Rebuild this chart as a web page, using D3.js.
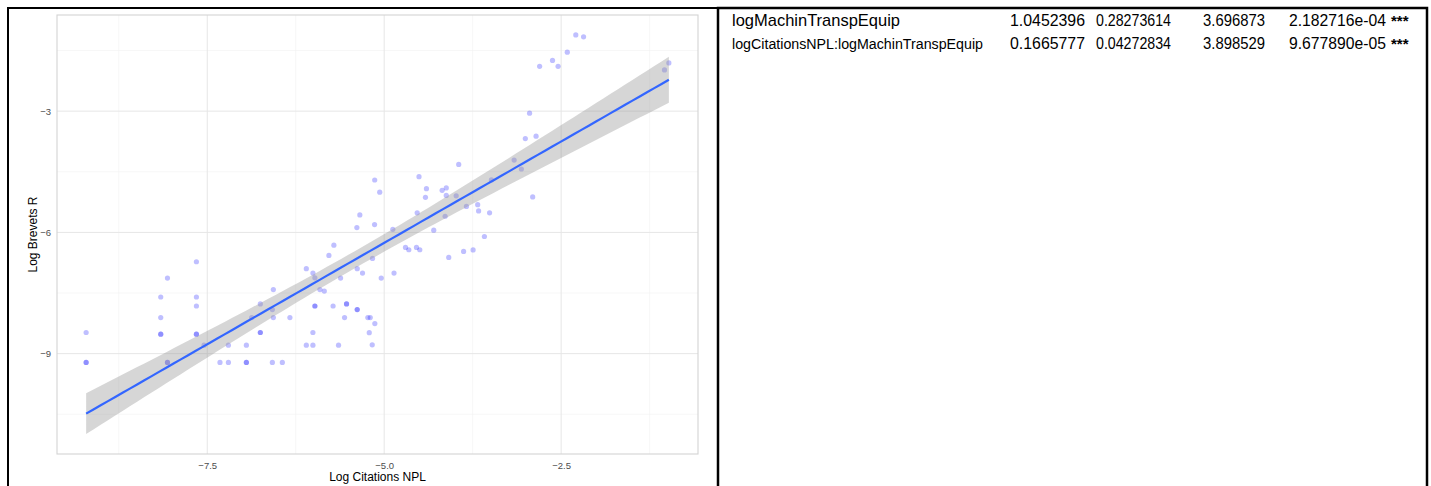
<!DOCTYPE html>
<html>
<head>
<meta charset="utf-8">
<script src="https://cdn.jsdelivr.net/npm/d3@7"></script>
<style>
  body { margin: 0; background: #fff; }
  svg { display: block; font-family: "Liberation Sans", Arial, sans-serif; }
</style>
</head>
<body>
<div id="chart"></div>
<script>
// log citations NPL (x) / log brevets R (y)
const citations = [
  -9.211, -9.211, -9.211, -8.157, -8.062, -8.157, -8.157, -8.157, -8.062, -8.062,
  -7.653, -7.653, -7.653, -7.653, -7.653, -7.545, -7.320, -7.201, -7.201, -6.947,
  -6.947, -6.947, -6.750, -6.750, -6.750, -6.872, -6.580, -6.566, -6.566, -6.580,
  -6.439, -6.332, -6.100, -6.007, -5.979, -5.908, -5.846, -5.979, -5.979, -5.722,
  -6.007, -6.100, -6.007, -5.645, -5.532, -5.532, -5.560, -5.381, -5.381, -5.231,
  -5.197, -5.132, -5.211, -5.169, -5.381, -5.781, -5.711, -5.616, -5.306, -5.165,
  -5.042, -4.861, -4.699, -4.652, -4.544, -4.497, -4.088, -3.878, -3.744, -5.344,
  -5.386, -5.136, -5.134, -5.063, -4.508, -4.403, -4.417, -4.181, -4.123, -4.123,
  -3.983, -4.534, -4.878, -4.300, -4.139, -3.947, -3.485, -3.838, -3.679, -3.666,
  -3.511, -3.584, -3.164, -3.062, -3.006, -2.854, -2.946, -2.902, -2.804, -2.622,
  -2.543, -2.413, -2.293, -2.183, -1.040, -0.978
];
const brevets = [
  -8.477, -9.217, -9.217, -7.599, -7.130, -8.107, -8.519, -8.519, -9.217, -9.217,
  -6.726, -7.599, -7.821, -8.519, -8.519, -8.790, -9.217, -9.217, -8.790, -8.790,
  -9.217, -9.217, -7.771, -8.477, -8.477, -8.107, -7.909, -7.416, -8.107, -9.217,
  -9.217, -8.107, -6.898, -7.007, -7.125, -7.416, -7.451, -7.821, -7.821, -7.821,
  -8.477, -8.790, -8.790, -8.790, -7.771, -7.771, -8.107, -7.909, -7.909, -8.107,
  -8.107, -8.255, -8.482, -8.782, -6.898, -6.570, -6.316, -7.130, -7.007, -6.644,
  -7.130, -7.007, -6.373, -6.430, -6.373, -6.430, -6.620, -6.472, -6.435, -5.567,
  -5.880, -5.806, -4.704, -5.004, -4.622, -4.918, -5.133, -4.960, -4.901, -5.086,
  -5.096, -5.517, -5.924, -5.946, -5.601, -4.319, -4.701, -5.357, -5.313, -5.468,
  -5.517, -6.102, -4.210, -4.432, -3.678, -3.619, -3.051, -5.123, -1.892, -1.744,
  -1.892, -1.540, -1.115, -1.162, -1.979, -1.806
];

const xMajor = [-7.5, -5.0, -2.5];
const xMinor = [-8.75, -6.25, -3.75, -1.25];
const yMajor = [-3, -6, -9];
const yMinor = [-1.5, -4.5, -7.5, -10.5];

// coefficient table shown on the right
const termNames = ["logMachinTranspEquip", "logCitationsNPL:logMachinTranspEquip"];
const estimates = ["1.0452396", "0.1665777"];
const stdErrors = ["0.28273614", "0.04272834"];
const tValues = ["3.696873", "3.898529"];
const pValues = ["2.182716e-04", "9.677890e-05"];
const stars = ["***", "***"];

const width = 1431, height = 486;
const svg = d3.select("#chart").append("svg")
    .attr("width", width)
    .attr("height", height);

const data = citations.map((c, i) => ({x: c, y: brevets[i]}));

// linear fit + 95% confidence band (what geom_smooth(method = "lm") draws)
const n = data.length;
const mx = d3.mean(data, d => d.x);
const my = d3.mean(data, d => d.y);
const sxx = d3.sum(data, d => (d.x - mx) ** 2);
const sxy = d3.sum(data, d => (d.x - mx) * (d.y - my));
const slope = sxy / sxx;
const icpt = my - slope * mx;
const sse = d3.sum(data, d => (d.y - icpt - slope * d.x) ** 2);
const s = Math.sqrt(sse / (n - 2));
const tq = 1.983;
const xr = d3.extent(data, d => d.x);
const fit = d3.range(0, 81).map(i => {
    const x = xr[0] + (xr[1] - xr[0]) * i / 80;
    const yh = icpt + slope * x;
    const se = s * Math.sqrt(1 / n + (x - mx) ** 2 / sxx);
    return {x: x, y: yh, lo: yh - tq * se, hi: yh + tq * se};
});

// ggplot-like 5% expansion
const yAll = brevets.concat(fit.map(d => d.lo), fit.map(d => d.hi));
const yr = d3.extent(yAll);
const xPad = (xr[1] - xr[0]) * 0.05, yPad = (yr[1] - yr[0]) * 0.05;

const panel = {left: 57, right: 698, top: 15, bottom: 454};

const x = d3.scaleLinear()
    .domain([xr[0] - xPad, xr[1] + xPad])
    .range([panel.left, panel.right]);
const y = d3.scaleLinear()
    .domain([yr[0] - yPad, yr[1] + yPad])
    .range([panel.bottom, panel.top]);

const plot = svg.append("g");

// grid
plot.selectAll(".xminor").data(xMinor).enter().append("line")
    .attr("x1", d => x(d)).attr("x2", d => x(d))
    .attr("y1", panel.top).attr("y2", panel.bottom)
    .attr("stroke", "#f2f2f2").attr("stroke-width", 0.6);
plot.selectAll(".yminor").data(yMinor).enter().append("line")
    .attr("y1", d => y(d)).attr("y2", d => y(d))
    .attr("x1", panel.left).attr("x2", panel.right)
    .attr("stroke", "#f2f2f2").attr("stroke-width", 0.6);
plot.selectAll(".xmajor").data(xMajor).enter().append("line")
    .attr("x1", d => x(d)).attr("x2", d => x(d))
    .attr("y1", panel.top).attr("y2", panel.bottom)
    .attr("stroke", "#e6e6e6").attr("stroke-width", 1);
plot.selectAll(".ymajor").data(yMajor).enter().append("line")
    .attr("y1", d => y(d)).attr("y2", d => y(d))
    .attr("x1", panel.left).attr("x2", panel.right)
    .attr("stroke", "#e6e6e6").attr("stroke-width", 1);

// points
plot.selectAll(".pt").data(data).enter().append("circle")
    .attr("cx", d => x(d.x))
    .attr("cy", d => y(d.y))
    .attr("r", 2.6)
    .attr("fill", "blue")
    .attr("fill-opacity", 0.25);

// band + line
plot.append("path")
    .datum(fit)
    .attr("d", d3.area().x(d => x(d.x)).y0(d => y(d.lo)).y1(d => y(d.hi)))
    .attr("fill", "#999999")
    .attr("fill-opacity", 0.4);
plot.append("path")
    .datum(fit)
    .attr("d", d3.line().x(d => x(d.x)).y(d => y(d.y)))
    .attr("fill", "none")
    .attr("stroke", "#3366FF")
    .attr("stroke-width", 2.2);

// panel border
plot.append("rect")
    .attr("x", panel.left).attr("y", panel.top)
    .attr("width", panel.right - panel.left)
    .attr("height", panel.bottom - panel.top)
    .attr("fill", "none")
    .attr("stroke", "#d4d4d4")
    .attr("stroke-width", 1.1);

// axes (labels only)
const xAxis = plot.append("g")
    .attr("transform", `translate(0,${panel.bottom + 4})`)
    .call(d3.axisBottom(x).tickValues(xMajor).tickFormat(d3.format(".1f")).tickSize(0));
const yAxis = plot.append("g")
    .attr("transform", `translate(${panel.left - 4},0)`)
    .call(d3.axisLeft(y).tickValues(yMajor).tickFormat(d3.format("d")).tickSize(0));
[xAxis, yAxis].forEach(a => {
    a.select(".domain").remove();
    a.selectAll("text")
        .attr("fill", "#4d4d4d")
        .attr("font-size", "9.5px")
        .attr("font-family", "Liberation Sans, Arial, sans-serif");
});
xAxis.selectAll("text").attr("dy", "0.85em");
yAxis.selectAll("text").attr("x", -2);

plot.append("text")
    .attr("x", (panel.left + panel.right) / 2)
    .attr("y", 481)
    .attr("text-anchor", "middle")
    .attr("font-size", "12px")
    .attr("fill", "#000")
    .text("Log Citations NPL");

plot.append("text")
    .attr("transform", `translate(37,${(panel.top + panel.bottom) / 2}) rotate(-90)`)
    .attr("text-anchor", "middle")
    .attr("font-size", "12px")
    .attr("fill", "#000")
    .text("Log Brevets R");

// frames
svg.append("rect")
    .attr("x", 8).attr("y", 8).attr("width", 710).attr("height", 490)
    .attr("fill", "none").attr("stroke", "#000").attr("stroke-width", 2);
svg.append("rect")
    .attr("x", 718).attr("y", 8).attr("width", 709).attr("height", 490)
    .attr("fill", "none").attr("stroke", "#000").attr("stroke-width", 2.5);

// table (narrow printed font, so squeeze each cell to its width)
const table = svg.append("g");
const rowY = [26, 49];
const labelSize = [16.4, 15.5];
const labelLen = [168, 251];
termNames.forEach((t, i) => {
    table.append("text")
        .attr("x", 732).attr("y", rowY[i])
        .attr("font-size", labelSize[i] + "px")
        .attr("textLength", labelLen[i])
        .attr("lengthAdjust", "spacingAndGlyphs")
        .text(t);
});
const cols = [
    {vals: estimates, x: 1010, w: 75},
    {vals: stdErrors, x: 1096, w: 75},
    {vals: tValues, x: 1203, w: 62},
    {vals: pValues, x: 1289, w: 97}
];
cols.forEach(c => {
    c.vals.forEach((v, i) => {
        table.append("text")
            .attr("x", c.x).attr("y", rowY[i])
            .attr("font-size", "16.5px")
            .attr("textLength", c.w)
            .attr("lengthAdjust", "spacingAndGlyphs")
            .text(v);
    });
});
stars.forEach((v, i) => {
    table.append("text")
        .attr("x", 1391).attr("y", rowY[i])
        .attr("font-size", "15px")
        .attr("font-weight", "bold")
        .text(v);
});
</script>
</body>
</html>
